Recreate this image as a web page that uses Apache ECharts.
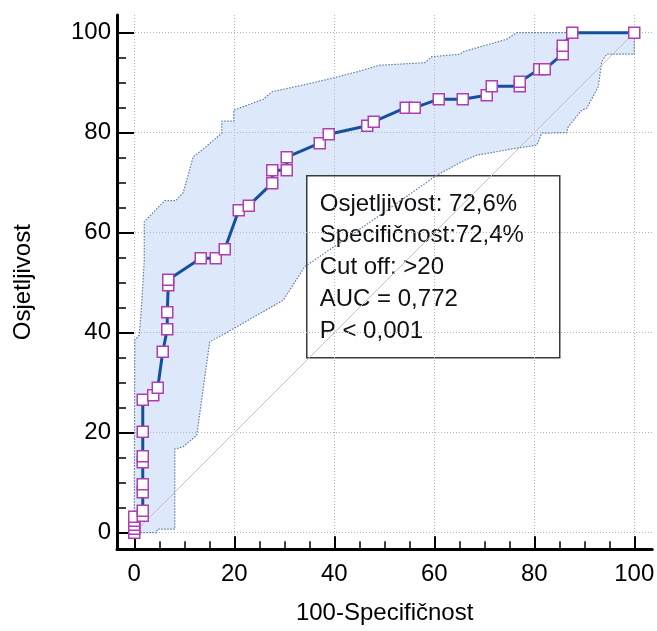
<!DOCTYPE html>
<html><head><meta charset="utf-8">
<script src="https://cdn.jsdelivr.net/npm/echarts@6/dist/echarts.min.js"></script>
<style>html,body{margin:0;padding:0;background:#fff}#c{width:657px;height:631px}</style>
</head><body><div id="c"></div>
<script>
// ROC curve points (100-Specificity, Sensitivity)
const rocX = [0, 0, 0, 0, 0, 1.7, 1.7, 1.7, 1.7, 1.7, 1.7, 1.7, 1.7, 3.8, 4.7, 5.7, 6.6, 6.6, 6.8, 6.8, 13.3, 16.3, 18.1, 20.9, 22.9, 27.6, 27.6, 30.5, 30.5, 37.1, 38.9, 46.6, 47.9, 54.3, 56.1, 60.9, 65.7, 70.5, 71.5, 77.1, 77.1, 81.0, 82.1, 85.7, 85.7, 87.6, 100];
const rocY = [0, 0.8, 1.6, 2.4, 3.2, 3.4, 4.4, 8.1, 9.7, 14.1, 15.3, 20.2, 26.6, 27.5, 29.0, 36.2, 40.7, 44.1, 49.5, 50.6, 54.9, 54.9, 56.7, 64.5, 65.4, 69.9, 72.5, 72.5, 75.1, 77.9, 79.7, 81.4, 82.2, 85.0, 85.0, 86.7, 86.7, 87.5, 89.3, 89.3, 90.2, 92.7, 92.7, 95.7, 97.4, 100, 100];
// Upper confidence bound
const upperX = [0, 0.1, 1.0, 1.5, 2.0, 2.0, 6.1, 8.3, 9.8, 11.8, 13.5, 17.5, 17.5, 19.9, 19.9, 25.8, 27.6, 34.5, 40.0, 45.0, 49.1, 58.1, 59.5, 65.1, 65.8, 74.5, 76.5, 100];
const upperY = [0, 38.5, 39.5, 46.0, 54.5, 62.2, 66.4, 66.4, 68.0, 75.2, 76.5, 79.9, 82.3, 82.3, 84.5, 86.7, 88.2, 89.7, 91.0, 92.3, 93.5, 94.0, 95.2, 95.7, 96.2, 98.7, 100, 100];
// Lower confidence bound
const lowerX = [0, 4.5, 4.6, 8.1, 8.1, 9.8, 12.5, 15.1, 15.3, 18.8, 29.8, 34.1, 47.0, 60.5, 66.1, 68.5, 76.5, 80.5, 81.5, 86.5, 86.8, 89.5, 90.5, 92.8, 93.5, 94.5, 100, 100];
const lowerY = [0, 0, 0.7, 0.7, 16.7, 17.2, 19.5, 38.2, 38.6, 40.2, 46.5, 53.2, 62.0, 71.5, 74.5, 75.5, 76.9, 77.5, 79.9, 80.0, 81.2, 84.5, 84.9, 89.2, 94.2, 95.7, 95.7, 100];
// Reference diagonal
const diagX = [0, 100];
const diagY = [0, 100];
// Ticks
const majorTicks = [0, 20, 40, 60, 80, 100];
const minorTicks = [5, 10, 15, 25, 30, 35, 45, 50, 55, 65, 70, 75, 85, 90, 95];
const xName = '100-Specifičnost';
const yName = 'Osjetljivost';
const annotationLines = ['Osjetljivost: 72,6%', 'Specifičnost:72,4%', 'Cut off: >20', 'AUC = 0,772', 'P < 0,001'];

const zip = (a, b) => a.map((v, i) => [v, b[i]]);
const FONT = '"Liberation Sans", Arial, sans-serif';

const xMin = -3.45, xMax = 103.6, yMin = -3.32, yMax = 103.54;

function majorAxis(isX) {
  return {
    type: 'value', min: isX ? xMin : yMin, max: isX ? xMax : yMax,
    position: isX ? 'bottom' : 'left',
    axisLine: { show: true, onZero: false, lineStyle: { color: '#000', width: 3 } },
    axisTick: { show: true, inside: true, length: isX ? 13 : 17, customValues: majorTicks, lineStyle: { color: '#000', width: 2 } },
    axisLabel: { show: true, customValues: majorTicks, margin: isX ? 13 : 6, fontSize: 24, color: '#000', fontFamily: FONT },
    splitLine: { show: true, lineStyle: { color: '#b5b5b5', width: 1, type: [1, 2] } },
    minorTick: { show: false },
    name: isX ? xName : yName, nameLocation: 'middle', nameGap: isX ? 52 : 82,
    nameTextStyle: { fontSize: 24, color: '#000', fontFamily: FONT }
  };
}
function minorAxis(isX) {
  return {
    type: 'value', min: isX ? xMin : yMin, max: isX ? xMax : yMax,
    position: isX ? 'bottom' : 'left', offset: 0,
    axisLine: { show: false, onZero: false },
    axisTick: { show: true, inside: true, length: isX ? 8 : 9, customValues: minorTicks, lineStyle: { color: '#000', width: 1.5 } },
    axisLabel: { show: false },
    splitLine: { show: false }
  };
}

const upper = zip(upperX, upperY);
const lower = zip(lowerX, lowerY);

const chart = echarts.init(document.getElementById('c'), null, { renderer: 'canvas' });
chart.setOption({
  animation: false,
  backgroundColor: '#fff',
  grid: { left: 117, right: 4.75, top: 15, bottom: 81.7, containLabel: false, outerBoundsMode: 'none' },
  xAxis: [majorAxis(true), minorAxis(true)],
  yAxis: [majorAxis(false), minorAxis(false)],
  series: [
    {
      type: 'custom', z: -1, silent: true, xAxisIndex: 0, yAxisIndex: 0,
      data: [[0, 0]],
      renderItem: function (params, api) {
        const pts = upper.map(p => api.coord(p)).concat(lower.slice().reverse().map(p => api.coord(p)));
        return { type: 'polygon', shape: { points: pts }, style: { fill: 'rgba(187,211,245,0.5)' } };
      }
    },
    {
      type: 'line', data: upper, symbol: 'none', silent: true,
      lineStyle: { color: '#5b7ca2', width: 1.2, type: [1.5, 1.5] }
    },
    {
      type: 'line', data: lower, symbol: 'none', silent: true,
      lineStyle: { color: '#5b7ca2', width: 1.2, type: [1.5, 1.5] }
    },
    {
      type: 'line', data: zip(diagX, diagY), symbol: 'none', silent: true,
      lineStyle: { color: '#cfb9c4', width: 1 }
    },
    {
      type: 'line', data: zip(rocX, rocY), symbol: 'rect', symbolSize: 11, silent: true,
      itemStyle: { color: '#fff', borderColor: '#b03db3', borderWidth: 1.5 },
      lineStyle: { color: '#14509c', width: 3 }
    }
  ],
  graphic: [{
    type: 'group', left: 306, top: 175, z: 100,
    children: [
      { type: 'rect', shape: { x: 0, y: 0, width: 253, height: 182 }, style: { fill: '#fff', stroke: '#3a3a3a', lineWidth: 1.5 } },
      { type: 'text', x: 13, y: 12.5, style: { text: annotationLines.join('\n'), fontSize: 24, fontFamily: FONT, lineHeight: 31.7, fill: '#111' } }
    ]
  }]
});
</script></body></html>
